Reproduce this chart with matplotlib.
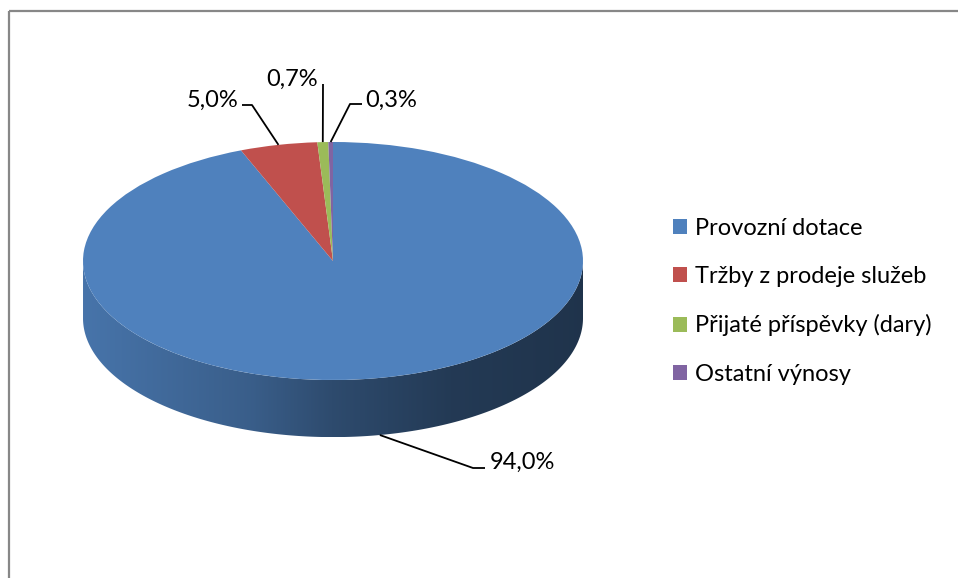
import numpy as np
import matplotlib
matplotlib.use("Agg")
import matplotlib.pyplot as plt
from matplotlib.patches import PathPatch
from matplotlib.path import Path

categories = ["Provozní dotace", "Tržby z prodeje služeb",
              "Přijaté příspěvky (dary)", "Ostatní výnosy"]
values = [94.0, 5.0, 0.7, 0.3]
value_labels = ["94,0%", "5,0%", "0,7%", "0,3%"]
colors = ["#4F81BD", "#C0504D", "#9BBB59", "#8064A2"]

plt.rcParams['font.family'] = ['Lato', 'DejaVu Sans']
W, H = 958, 578
fig = plt.figure(figsize=(W / 100, H / 100), dpi=100)

# ---- pie axes (ellipse: top face) ----
depth = 0.48
px_left, px_top, px_w, px_h_top = 83, 142, 500, 238
px_h = px_h_top + depth * px_h_top / 2
ax = fig.add_axes([px_left / W, 1 - (px_top + px_h) / H, px_w / W, px_h / H])
wedges, _ = ax.pie(values, colors=colors, startangle=90, counterclock=False,
                   radius=1, center=(0, 0), wedgeprops=dict(linewidth=0))
for w in wedges:
    w.set_zorder(3)
ax.set_aspect('auto')
ax.set_xlim(-1, 1)
ax.set_ylim(-1 - depth, 1)
ax.axis('off')

# ---- 3D side wall with shading ----
sx = np.array([-1.0, -0.33, 0.0, 0.47, 1.0])
sv = np.array([0.90, 0.73, 0.58, 0.45, 0.40])
for w, c in zip(wedges, colors):
    t = np.radians(np.linspace(w.theta1, w.theta2, 600))
    t = t[np.sin(t) <= 0]
    if len(t) < 2:
        continue
    top = np.column_stack([np.cos(t), np.sin(t)])
    bot = np.column_stack([np.cos(t[::-1]), np.sin(t[::-1]) - depth])
    verts = np.vstack([top, bot, top[:1]])
    patch = PathPatch(Path(verts, closed=True), facecolor='none', edgecolor='none')
    ax.add_patch(patch)
    base = np.array(matplotlib.colors.to_rgb(c))
    xs = np.linspace(-1, 1, 400)
    shade = np.interp(xs, sx, sv)
    img = np.clip(shade[:, None] * base[None, :], 0, 1)[None, :, :]
    im = ax.imshow(img, extent=(-1, 1, -1 - depth, 0.05), aspect='auto',
                   zorder=2, interpolation='bilinear')
    im.set_clip_path(patch)
ax.set_xlim(-1, 1)
ax.set_ylim(-1 - depth, 1)

# ---- overlay in pixel coordinates ----
oax = fig.add_axes([0, 0, 1, 1], zorder=5)
oax.set_xlim(0, W)
oax.set_ylim(H, 0)
oax.axis('off')
oax.patch.set_alpha(0)

def to_px(x, y):
    d = ax.transData.transform((x, y))
    return oax.transData.inverted().transform(d)

# label layout: (elbow points..., text pos, ha)
layout = [
    ([(473, 468), (485, 468)], (490, 462), 'left'),
    ([(252, 105), (242, 105)], (238, 100), 'right'),
    ([(323, 84)], (318, 79), 'right'),
    ([(350, 104), (362, 104)], (365, 100), 'left'),
]
for w, lab, (pts, tpos, ha) in zip(wedges, value_labels, layout):
    m = np.radians((w.theta1 + w.theta2) / 2)
    x, y = np.cos(m), np.sin(m)
    if y < 0:
        y -= depth
    a = to_px(x, y)
    xs = [a[0]] + [p[0] for p in pts]
    ys = [a[1]] + [p[1] for p in pts]
    oax.plot(xs, ys, color='black', lw=1.3, solid_capstyle='butt')
    oax.text(tpos[0], tpos[1], lab, ha=ha, va='center', fontsize=17, color='black')

# chart area border (left and top visible)
oax.plot([9.5, 9.5], [H, 10.5], color='#878787', lw=1.6, solid_capstyle='butt')
oax.plot([9.5, W], [10.5, 10.5], color='#878787', lw=1.6, solid_capstyle='butt')

# legend
fig.legend(wedges, categories, loc='upper left',
           bbox_to_anchor=(673 / W, 1 - 218 / H), frameon=False,
           fontsize=17, handlelength=0.6, handleheight=0.6,
           handletextpad=0.35, labelspacing=1.15, borderpad=0,
           borderaxespad=0)

fig.savefig("out.png", dpi=100)
